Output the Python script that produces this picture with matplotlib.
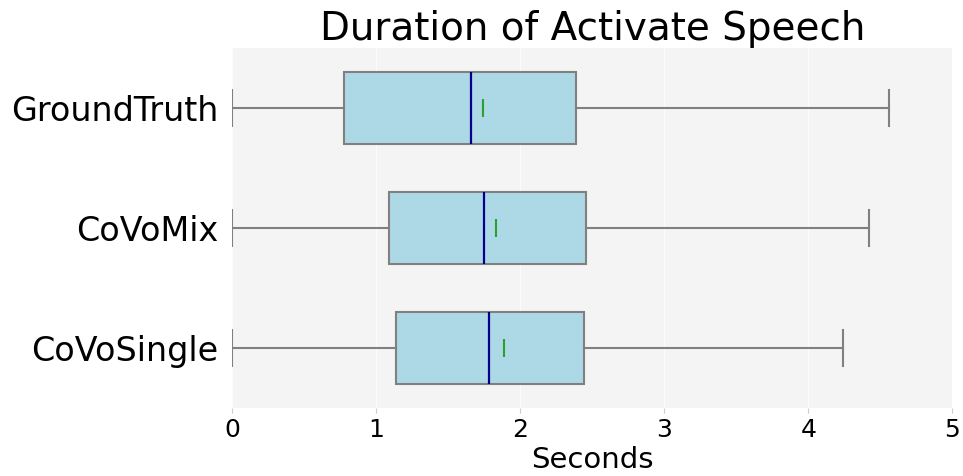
import matplotlib
matplotlib.use("Agg")
import matplotlib.pyplot as plt

# (seconds)
labels = ["GroundTruth", "CoVoMix", "CoVoSingle"]
whislo = [0.0, 0.0, 0.0]
q1 = [0.78, 1.09, 1.14]
med = [1.66, 1.75, 1.78]
mean = [1.74, 1.83, 1.89]
q3 = [2.39, 2.46, 2.44]
whishi = [4.56, 4.42, 4.24]

stats = []
for i in range(len(labels)):
    stats.append(dict(label=labels[i], whislo=whislo[i], q1=q1[i], med=med[i],
                      mean=mean[i], q3=q3[i], whishi=whishi[i], fliers=[]))

fig = plt.figure(figsize=(9.63, 4.76), dpi=100)
ax = fig.add_axes([0.241, 0.143, 0.748, 0.757])
ax.set_facecolor("#f4f4f4")

# first label at top
pos = [3, 2, 1]
ax.bxp(stats, positions=pos, vert=False, widths=0.6, showmeans=True,
       patch_artist=True,
       boxprops=dict(facecolor="lightblue", edgecolor="gray", linewidth=1.5),
       medianprops=dict(color="darkblue", linewidth=1.6),
       whiskerprops=dict(color="gray", linewidth=1.5),
       capprops=dict(color="gray", linewidth=1.5),
       meanprops=dict(marker="|", markeredgecolor="tab:green", markersize=13,
                      markeredgewidth=1.5))

ax.set_xlim(0, 5)
ax.set_ylim(0.5, 3.5)
ax.set_yticks(pos)
ax.set_yticklabels(labels, fontsize=24)
ax.tick_params(axis="y", length=0, pad=10)
ax.tick_params(axis="x", labelsize=18, colors="#cccccc", labelcolor="black")
ax.grid(axis="x", color="#fbfbfb", linewidth=1)
ax.set_axisbelow(True)
for s in ax.spines.values():
    s.set_visible(False)

ax.set_title("Duration of Activate Speech", fontsize=28, pad=3)
ax.set_xlabel("Seconds", fontsize=21, labelpad=3)

fig.savefig("out.png", dpi=100)
